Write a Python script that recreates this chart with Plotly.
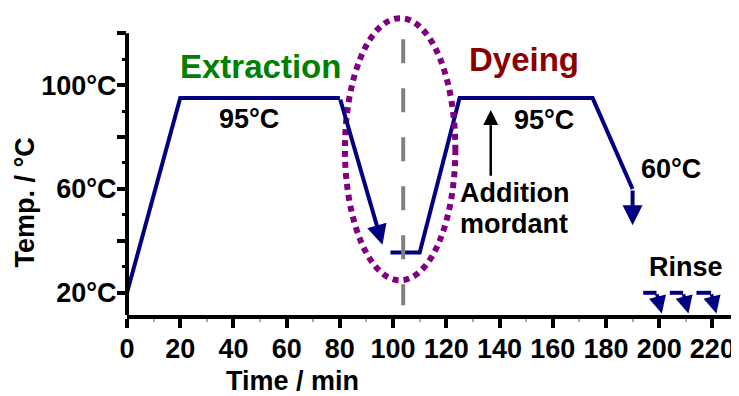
import plotly.graph_objects as go

# ---------------- values ----------------
extraction_time = [0, 20, 80]
extraction_temp = [20, 95, 95]
cooling_arrow_time = [80, 96]
cooling_arrow_temp = [95, 38.5]
dyeing_time = [99, 110, 125, 175, 190]
dyeing_temp = [35.5, 35.5, 95, 95, 60]
final_arrow_time = [190, 190]
final_arrow_temp = [60, 46]
rinse_start_time = [194, 204, 214]
rinse_bend_time = [199, 209, 219.5]
rinse_tip_time = [201, 211, 221.5]
rinse_temp = 20
rinse_tip_temp = 12
mordant_arrow_time = [136.7, 136.7]
mordant_arrow_temp = [64.5, 90.4]
ellipse_time = [81.9, 123.4]
ellipse_temp = [24.8, 125.8]
marker_time = 103.8
marker_temp = [15.2, 117.7]

x_tickvals = [0, 20, 40, 60, 80, 100, 120, 140, 160, 180, 200, 220]
x_minor = [10, 30, 50, 70, 90, 110, 130, 150, 170, 190, 210]
y_tickvals = [20, 40, 60, 80, 100, 120]
y_ticktext = ["20°C", "", "60°C", "", "100°C", ""]
y_minor = [30, 50, 70, 90, 110]

# ---------------- styles ----------------
NAVY = "#000080"
FAM = "Liberation Sans, Arial, sans-serif"
LW = 4


def bold(size, color="black"):
    return dict(family=FAM, size=size, color=color, weight="bold")


fig = go.Figure()

fig.add_trace(go.Scatter(x=extraction_time, y=extraction_temp, mode="lines",
                         line=dict(color=NAVY, width=LW), hoverinfo="skip"))
fig.add_trace(go.Scatter(x=dyeing_time, y=dyeing_temp, mode="lines",
                         line=dict(color=NAVY, width=LW), hoverinfo="skip"))
rx, ry = [], []
for s, b in zip(rinse_start_time, rinse_bend_time):
    rx += [s, b, None]
    ry += [rinse_temp, rinse_temp, None]
fig.add_trace(go.Scatter(x=rx, y=ry, mode="lines",
                         line=dict(color=NAVY, width=LW), hoverinfo="skip"))


def arrow(x0, y0, x1, y1, color=NAVY, width=LW, size=1.0, head=2):
    return dict(x=x1, y=y1, ax=x0, ay=y0, xref="x", yref="y", axref="x", ayref="y",
                text="", showarrow=True, arrowhead=head, arrowsize=size,
                arrowwidth=width, arrowcolor=color)


ann = []
ann.append(arrow(cooling_arrow_time[0], cooling_arrow_temp[0], cooling_arrow_time[1], cooling_arrow_temp[1]))
ann.append(arrow(final_arrow_time[0], final_arrow_temp[0], final_arrow_time[1], final_arrow_temp[1]))
for b, t in zip(rinse_bend_time, rinse_tip_time):
    ann.append(arrow(b, rinse_temp, t, rinse_tip_temp, width=3.5))
ann.append(arrow(mordant_arrow_time[0], mordant_arrow_temp[0], mordant_arrow_time[1], mordant_arrow_temp[1],
                 color="black", width=2.5, size=1.2))


def label(x, y, text, size=27, color="black"):
    return dict(x=x, y=y, xref="x", yref="y", text=text, showarrow=False,
                xanchor="center", yanchor="middle", font=bold(size, color))


ann += [
    label(50, 107.3, "Extraction", 33, "#008000"),
    label(149.3, 110, "Dyeing", 33, "#8B0000"),
    label(45.8, 87, "95°C"),
    label(156.6, 86.5, "95°C"),
    label(145.6, 58.5, "Addition"),
    label(145.6, 46.4, "mordant"),
    label(204.4, 67.6, "60°C"),
    label(210, 30.1, "Rinse"),
]
# axis titles
ann.append(dict(x=62.1, y=0, xref="x", yref="paper", text="Time / min", showarrow=False,
                xanchor="center", yanchor="middle", yshift=-66, borderpad=0, font=bold(27)))
ann.append(dict(x=0, y=54.8, xref="paper", yref="y", text="Temp. / °C", showarrow=False,
                xanchor="center", yanchor="middle", xshift=-102, textangle=-90, font=bold(27)))

shapes = [
    # y axis line (only up to 120)
    dict(type="line", xref="paper", yref="y", x0=0, x1=0, y0=10, y1=120,
         line=dict(color="black", width=LW), layer="above"),
    dict(type="circle", xref="x", yref="y", x0=ellipse_time[0], x1=ellipse_time[1],
         y0=ellipse_temp[0], y1=ellipse_temp[1],
         line=dict(color="#800080", width=6, dash="6px,5px")),
    dict(type="line", xref="x", yref="y", x0=marker_time, x1=marker_time,
         y0=marker_temp[1], y1=marker_temp[0],
         line=dict(color="#808080", width=4, dash="24px,25px")),
]

# the page body has an 8px default margin, so the figure is sized to end at 739x396
fig.update_layout(
    width=731, height=388,
    margin=dict(l=119, r=0, t=0, b=81, autoexpand=False),
    paper_bgcolor="white", plot_bgcolor="white",
    showlegend=False,
    annotations=ann, shapes=shapes,
    xaxis=dict(range=[0, 230], showline=True, linecolor="black", linewidth=LW,
               ticks="outside", ticklen=9, tickwidth=LW, tickcolor="black",
               tickmode="array", tickvals=x_tickvals, tickfont=bold(27),
               ticklabelstandoff=-2, automargin=False,
               showgrid=False, zeroline=False,
               minor=dict(tickmode="array", tickvals=x_minor, ticks="outside",
                          ticklen=3, tickwidth=2, tickcolor="#aaaaaa")),
    yaxis=dict(range=[11.45, 129.7], showline=False,
               ticks="outside", ticklen=9, tickwidth=LW, tickcolor="black",
               tickmode="array", tickvals=y_tickvals, ticktext=y_ticktext,
               tickfont=bold(27), ticklabelstandoff=-5, automargin=False,
               showgrid=False, zeroline=False,
               minor=dict(tickmode="array", tickvals=y_minor, ticks="outside",
                          ticklen=4, tickwidth=3, tickcolor="black")),
)

fig.write_html("out.html")
